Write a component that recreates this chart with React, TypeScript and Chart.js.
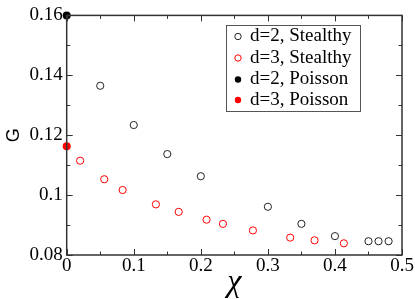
import React, { useEffect, useRef } from "react";
import { Chart, registerables } from "chart.js";

Chart.register(...registerables);

const xStealthy2 = [0.05, 0.1, 0.15, 0.2, 0.3, 0.35, 0.4, 0.45, 0.465, 0.48];
const gStealthy2 = [0.1365, 0.1234, 0.1137, 0.1063, 0.0961, 0.0904, 0.0863, 0.0846, 0.0846, 0.0846];
const xStealthy3 = [0.02, 0.056, 0.0834, 0.133, 0.167, 0.2086, 0.233, 0.2777, 0.3333, 0.3696, 0.4133];
const gStealthy3 = [0.1115, 0.1053, 0.1017, 0.0969, 0.0944, 0.0918, 0.0904, 0.0882, 0.0858, 0.0849, 0.0839];
const xPoisson2 = [0];
const gPoisson2 = [0.16];
const xPoisson3 = [0];
const gPoisson3 = [0.1163];

const seriesLabels = ["d=2, Stealthy", "d=3, Stealthy", "d=2, Poisson", "d=3, Poisson"];
const xMajorTicks = [0, 0.1, 0.2, 0.3, 0.4, 0.5];
const xMinorTicks = [0.05, 0.15, 0.25, 0.35, 0.45];
const yMajorTicks = [0.08, 0.1, 0.12, 0.14, 0.16];
const yMinorTicks = [0.09, 0.11, 0.13, 0.15];

const toPts = (xs: number[], ys: number[]) => xs.map((x, i) => ({ x, y: ys[i] }));

const frameTicksPlugin = {
  id: "frameTicks",
  afterDatasetsDraw(chart: any) {
    const { ctx, chartArea } = chart;
    const { left, right, top, bottom } = chartArea;
    const xs = chart.scales.x;
    const ys = chart.scales.y;
    ctx.save();
    ctx.strokeStyle = "#333";
    ctx.lineWidth = 1;
    ctx.beginPath();
    const maj = 6;
    const min = 3.5;
    const drawX = (v: number, len: number) => {
      const p = Math.round(xs.getPixelForValue(v)) + 0.5;
      ctx.moveTo(p, bottom);
      ctx.lineTo(p, bottom - len);
      ctx.moveTo(p, top);
      ctx.lineTo(p, top + len);
    };
    const drawY = (v: number, len: number) => {
      const p = Math.round(ys.getPixelForValue(v)) + 0.5;
      ctx.moveTo(left, p);
      ctx.lineTo(left + len, p);
      ctx.moveTo(right, p);
      ctx.lineTo(right - len, p);
    };
    xMajorTicks.forEach((v) => drawX(v, maj));
    xMinorTicks.forEach((v) => drawX(v, min));
    yMajorTicks.forEach((v) => drawY(v, maj));
    yMinorTicks.forEach((v) => drawY(v, min));
    ctx.stroke();
    ctx.lineWidth = 1.5;
    ctx.strokeRect(left, top, right - left, bottom - top);
    ctx.restore();
  },
  afterDraw(chart: any) {
    const { ctx } = chart;
    const bx = 226, by = 25, bw = 134, bh = 86;
    ctx.save();
    ctx.fillStyle = "#fff";
    ctx.fillRect(bx, by, bw, bh);
    ctx.strokeStyle = "#555";
    ctx.lineWidth = 1;
    ctx.strokeRect(bx + 0.5, by + 0.5, bw, bh);
    ctx.font = "19px 'Liberation Serif'";
    ctx.textBaseline = "middle";
    ctx.textAlign = "left";
    const rowY = [36.5, 58, 79.5, 100];
    chart.data.datasets.forEach((ds: any, i: number) => {
      const y = rowY[i];
      ctx.beginPath();
      ctx.arc(238, y, 3.2, 0, Math.PI * 2);
      if (ds.backgroundColor !== "transparent") {
        ctx.fillStyle = ds.backgroundColor;
        ctx.fill();
      } else {
        ctx.strokeStyle = ds.borderColor;
        ctx.lineWidth = 1;
        ctx.stroke();
      }
      ctx.fillStyle = "#000";
      ctx.fillText(ds.label, 250, y);
    });
    ctx.restore();
  },
};

export default function App() {
  const ref = useRef<HTMLCanvasElement | null>(null);
  useEffect(() => {
    document.body.style.margin = "0";
    const tickFont = { family: "'Liberation Serif'", size: 19 };
    const fmt = (v: any) => String(Number(Number(v).toFixed(2)));
    const chart = new Chart(ref.current as HTMLCanvasElement, {
      type: "scatter",
      data: {
        datasets: [
          {
            label: seriesLabels[0],
            data: toPts(xStealthy2, gStealthy2),
            backgroundColor: "transparent",
            borderColor: "#222",
            borderWidth: 1,
            pointRadius: 3.6,
            clip: false,
          },
          {
            label: seriesLabels[1],
            data: toPts(xStealthy3, gStealthy3),
            backgroundColor: "transparent",
            borderColor: "#ff0000",
            borderWidth: 1,
            pointRadius: 3.6,
            clip: false,
          },
          {
            label: seriesLabels[2],
            data: toPts(xPoisson2, gPoisson2),
            backgroundColor: "#000",
            borderColor: "#000",
            borderWidth: 0,
            pointRadius: 4,
            clip: false,
          },
          {
            label: seriesLabels[3],
            data: toPts(xPoisson3, gPoisson3),
            backgroundColor: "#ff0000",
            borderColor: "#ff0000",
            borderWidth: 0,
            pointRadius: 4,
            clip: false,
          },
        ],
      } as any,
      options: {
        animation: false,
        responsive: false,
        devicePixelRatio: 1,
        layout: { padding: { top: 10, right: 13, left: 0, bottom: 0 } },
        plugins: { legend: { display: false }, tooltip: { enabled: false } },
        scales: {
          x: {
            type: "linear",
            min: 0,
            max: 0.5,
            ticks: { stepSize: 0.1, font: tickFont, color: "#000", padding: 0, callback: fmt, maxRotation: 0 },
            grid: { display: false, drawTicks: false },
            border: { display: false },
            title: {
              display: true,
              text: "χ",
              color: "#000",
              font: { family: "'Liberation Serif'", style: "italic", size: 32, lineHeight: 1 },
              padding: { top: 0, bottom: 0 },
            },
            afterFit: (s: any) => {
              s.height = 44;
            },
          },
          y: {
            type: "linear",
            min: 0.08,
            max: 0.16,
            ticks: { stepSize: 0.02, font: tickFont, color: "#000", padding: 4, callback: fmt },
            grid: { display: false, drawTicks: false },
            border: { display: false },
            title: {
              display: true,
              text: "G",
              color: "#000",
              font: { family: "'Liberation Sans'", size: 18, lineHeight: 1 },
              padding: { top: 5, bottom: 0 },
            },
            afterFit: (s: any) => {
              s.width = 66.7;
            },
          },
        },
      } as any,
      plugins: [frameTicksPlugin],
    });
    return () => chart.destroy();
  }, []);
  return (
    <div style={{ width: 415, height: 299, position: "relative" }}>
      <canvas ref={ref} width={415} height={299} />
    </div>
  );
}
